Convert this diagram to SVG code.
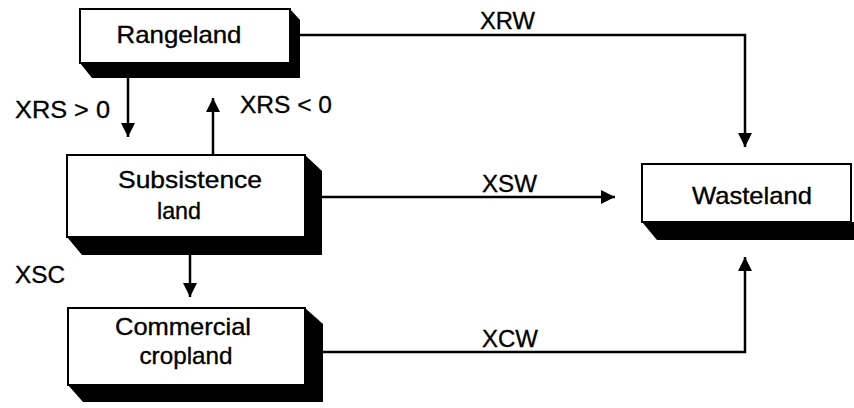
<svg xmlns="http://www.w3.org/2000/svg" width="854" height="408" viewBox="0 0 854 408">
<style>
  .box { fill: #ffffff; stroke: #000000; stroke-width: 2; }
  .shadow { fill: #000000; }
  .t { font-family: "Liberation Sans", Arial, sans-serif; font-size: 24px; fill: #000000; stroke: #000000; stroke-width: 0.35; text-anchor: middle; }
  .lbl { font-family: "Liberation Sans", Arial, sans-serif; font-size: 23px; fill: #000000; stroke: #000000; stroke-width: 0.3; }
  .conn { fill: none; stroke: #000000; stroke-width: 2.5; }
</style>
<defs>
  <marker id="arrow" markerUnits="userSpaceOnUse" markerWidth="16" markerHeight="16" viewBox="0 0 16 16" refX="14" refY="8" orient="auto">
    <path d="M0,1 L14,8 L0,15 Z" fill="#000000"/>
  </marker>
</defs>
<rect width="854" height="408" fill="#ffffff"/>

<g id="connectors">
  <polyline class="conn" points="300,35 745,35 745,147" marker-end="url(#arrow)"/>
  <line class="conn" x1="128" y1="78" x2="128" y2="137" marker-end="url(#arrow)"/>
  <line class="conn" x1="213" y1="155" x2="213" y2="98" marker-end="url(#arrow)"/>
  <line class="conn" x1="322" y1="197" x2="615" y2="197" marker-end="url(#arrow)"/>
  <line class="conn" x1="190" y1="255" x2="190" y2="297" marker-end="url(#arrow)"/>
  <polyline class="conn" points="323,352 745,352 745,257" marker-end="url(#arrow)"/>
  <text class="lbl" x="480" y="29" textLength="55" lengthAdjust="spacingAndGlyphs">XRW</text>
  <text class="lbl" x="15" y="118" textLength="95" lengthAdjust="spacingAndGlyphs">XRS &gt; 0</text>
  <text class="lbl" x="240" y="113" textLength="92" lengthAdjust="spacingAndGlyphs">XRS &lt; 0</text>
  <text class="lbl" x="482" y="192" textLength="55" lengthAdjust="spacingAndGlyphs">XSW</text>
  <text class="lbl" x="15" y="283" textLength="50" lengthAdjust="spacingAndGlyphs">XSC</text>
  <text class="lbl" x="482" y="347" textLength="56" lengthAdjust="spacingAndGlyphs">XCW</text>
</g>

<g id="rangeland">
  <polygon class="shadow" points="80,63 92,78 300,78 300,20 290,9 290,63"/>
  <rect class="box" x="80" y="9" width="210" height="54"/>
  <text class="t" x="179" y="43" textLength="125" lengthAdjust="spacingAndGlyphs">Rangeland</text>
</g>

<g id="subsistence">
  <polygon class="shadow" points="67,237 82,255 322,255 322,171 305,155 305,237"/>
  <rect class="box" x="67" y="155" width="238" height="82"/>
  <text class="t" x="190" y="188" textLength="144" lengthAdjust="spacingAndGlyphs">Subsistence</text>
  <text class="t" x="179" y="219" textLength="44" lengthAdjust="spacingAndGlyphs">land</text>
</g>

<g id="commercial">
  <polygon class="shadow" points="68,385 83,402 323,402 323,324 305,308 305,385"/>
  <rect class="box" x="68" y="308" width="237" height="77"/>
  <text class="t" x="183" y="335" textLength="136" lengthAdjust="spacingAndGlyphs">Commercial</text>
  <text class="t" x="186" y="364" textLength="93" lengthAdjust="spacingAndGlyphs">cropland</text>
</g>

<g id="wasteland">
  <polygon class="shadow" points="642,222 657,240 854,240 854,222"/>
  <rect class="box" x="642" y="164" width="209" height="58"/>
  <text class="t" x="752" y="204" textLength="120" lengthAdjust="spacingAndGlyphs">Wasteland</text>
</g>
</svg>
